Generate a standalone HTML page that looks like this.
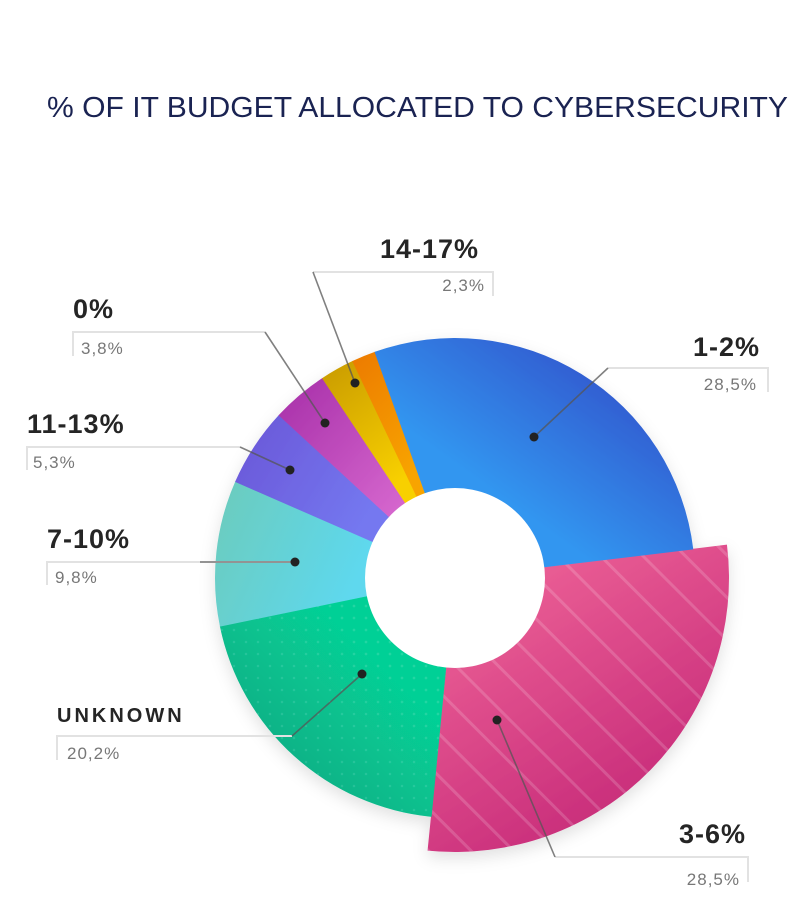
<!DOCTYPE html>
<html><head><meta charset="utf-8"><style>
html,body{margin:0;padding:0;background:#fff;}
svg{display:block;}
.lb{font-family:"Liberation Sans",sans-serif;font-weight:bold;fill:#252525;letter-spacing:1px;}
.vl{font-family:"Liberation Sans",sans-serif;fill:#777;font-size:17px;letter-spacing:1px;}
</style></head><body>
<svg id="s" width="801" height="900" viewBox="0 0 801 900" xmlns="http://www.w3.org/2000/svg">
<defs>
<filter id="sh" x="-20%" y="-20%" width="140%" height="140%"><feDropShadow dx="0" dy="6" stdDeviation="8" flood-color="#000" flood-opacity="0.12"/></filter>
<linearGradient id="gBlue" x1="0" y1="1" x2="1" y2="0"><stop offset="0.35" stop-color="#3396f0"/><stop offset="1" stop-color="#2e3ec0"/></linearGradient>
<linearGradient id="gPink" x1="0" y1="0" x2="0.6" y2="1"><stop offset="0" stop-color="#f46c9c"/><stop offset="1" stop-color="#c52878"/></linearGradient>
<linearGradient id="gGreen" x1="1" y1="0" x2="0" y2="1"><stop offset="0.3" stop-color="#06d096"/><stop offset="1" stop-color="#0a9e7c"/></linearGradient>
<linearGradient id="gCyan" x1="0" y1="0" x2="1" y2="0.4"><stop offset="0" stop-color="#6ccbbb"/><stop offset="1" stop-color="#5ed8ee"/></linearGradient>
<linearGradient id="gPurple" x1="0" y1="0" x2="1" y2="0.5"><stop offset="0" stop-color="#6a55d6"/><stop offset="1" stop-color="#7478f0"/></linearGradient>
<linearGradient id="gMag" x1="0" y1="0" x2="1" y2="1"><stop offset="0" stop-color="#a62ea8"/><stop offset="1" stop-color="#d86ad0"/></linearGradient>
<linearGradient id="gYel" x1="0" y1="0" x2="0.5" y2="1"><stop offset="0" stop-color="#c89a00"/><stop offset="1" stop-color="#f8d000"/></linearGradient>
<linearGradient id="gOr" x1="0" y1="0" x2="0.5" y2="1"><stop offset="0" stop-color="#ec7a00"/><stop offset="1" stop-color="#f8a400"/></linearGradient>
<pattern id="stripes" width="30" height="30" patternUnits="userSpaceOnUse" patternTransform="rotate(-45)"><rect x="0" y="0" width="3" height="30" fill="#fff" fill-opacity="0.16"/></pattern>
<pattern id="dots" width="12" height="12" patternUnits="userSpaceOnUse"><circle cx="6" cy="6" r="1.3" fill="#fff" fill-opacity="0.12"/></pattern>
</defs>
<text x="47" y="117" font-family="Liberation Sans,sans-serif" font-size="29" fill="#1a2352" textLength="741" lengthAdjust="spacingAndGlyphs">% OF IT BUDGET ALLOCATED TO CYBERSECURITY</text>
<g id="pie" filter="url(#sh)"></g>
<circle cx="455" cy="578" r="90" fill="#fff"/>
<g fill="none" stroke="#e2e2e2" stroke-width="2">
<path d="M313 272 H493 V296"/>
<path d="M73 356 V332 H265"/>
<path d="M27 470 V447 H240"/>
<path d="M47 585 V562 H295"/>
<path d="M57 760 V736 H292"/>
<path d="M608 368 H768 V392"/>
<path d="M555 857 H748 V882"/>
</g>
<g fill="none" stroke="#555" stroke-opacity="0.75" stroke-width="1.6">
<path d="M313 272 L355 383"/>
<path d="M265 332 L325 423"/>
<path d="M240 447 L290 470"/>
<path d="M200 562 L295 562"/>
<path d="M292 736 L362 674"/>
<path d="M608 368 L534 437"/>
<path d="M497 720 L555 857"/>
</g>
<g fill="#222">
<circle cx="355" cy="383" r="4.5"/><circle cx="325" cy="423" r="4.5"/><circle cx="290" cy="470" r="4.5"/>
<circle cx="295" cy="562" r="4.5"/><circle cx="362" cy="674" r="4.5"/><circle cx="534" cy="437" r="4.5"/><circle cx="497" cy="720" r="4.5"/>
</g>
<text class="lb" x="380" y="258" font-size="27">14-17%</text>
<text class="vl" x="485" y="291" text-anchor="end">2,3%</text>
<text class="lb" x="73" y="318" font-size="27">0%</text>
<text class="vl" x="81" y="354">3,8%</text>
<text class="lb" x="27" y="433" font-size="27">11-13%</text>
<text class="vl" x="33" y="468">5,3%</text>
<text class="lb" x="47" y="548" font-size="27">7-10%</text>
<text class="vl" x="55" y="583">9,8%</text>
<text class="lb" x="57" y="722" font-size="20" style="letter-spacing:3px">UNKNOWN</text>
<text class="vl" x="67" y="759">20,2%</text>
<text class="lb" x="760" y="356" font-size="27" text-anchor="end">1-2%</text>
<text class="vl" x="757" y="390" text-anchor="end">28,5%</text>
<text class="lb" x="746" y="843" font-size="27" text-anchor="end">3-6%</text>
<text class="vl" x="740" y="885" text-anchor="end">28,5%</text>
</svg>
<script>
(function(){
var cx=455,cy=578,ri=88;
function pt(r,a){a=a*Math.PI/180;return [cx+r*Math.sin(a),cy-r*Math.cos(a)];}
function arc(r,a0,a1){var p0=pt(r,a0),p1=pt(r,a1),q0=pt(ri,a1),q1=pt(ri,a0),lg=(a1-a0)>180?1:0;
return "M"+p0+" A"+r+","+r+" 0 "+lg+" 1 "+p1+" L"+q0+" A"+ri+","+ri+" 0 "+lg+" 0 "+q1+" Z";}
var sl=[[28.5,"gPink",274,"stripes"],[20.2,"gGreen",240,"dots"],[9.8,"gCyan",240],[5.3,"gPurple",240],[3.8,"gMag",240],[2.3,"gYel",240],[1.6,"gOr",240],[28.5,"gBlue",240]];
var a=83,g=document.getElementById("pie"),h="";
sl.forEach(function(s){var a1=a+s[0]*3.6;var d=arc(s[2],a,a1+0.15);
h+='<path d="'+d+'" fill="url(#'+s[1]+')"/>';
if(s[3])h+='<path d="'+d+'" fill="url(#'+s[3]+')"/>';a=a1;});
g.innerHTML=h;
})();
</script>
</body></html>
